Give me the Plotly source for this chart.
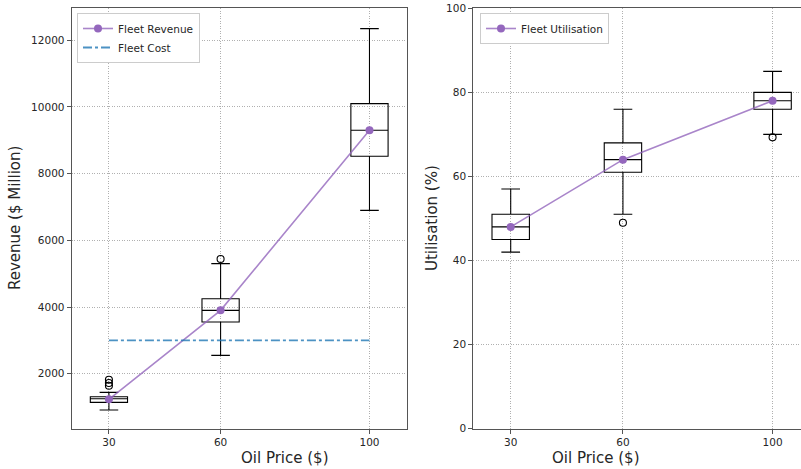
import plotly.graph_objects as go

# Oil price scenarios
oil_price = [30, 60, 100]
tick_labels = ["30", "60", "100"]

# Fleet revenue distribution per scenario ($ Million)
rev_q1 = [1140, 3550, 8520]
rev_median = [1250, 3900, 9300]
rev_q3 = [1310, 4250, 10100]
rev_low = [910, 2550, 6900]
rev_high = [1440, 5300, 12350]
rev_outlier_x = [30, 30, 30, 60]
rev_outlier_y = [1820, 1720, 1640, 5440]
rev_mean = [1230, 3900, 9300]

# Fleet cost ($ Million)
cost_x = [30, 100]
cost_y = [3000, 3000]

# Fleet utilisation distribution per scenario (%)
util_q1 = [45, 61, 76]
util_median = [48, 64, 78]
util_q3 = [51, 68, 80]
util_low = [42, 51, 70]
util_high = [57, 76, 85]
util_outlier_x = [60, 100]
util_outlier_y = [49, 69.3]
util_mean = [48, 64, 78]

W, H = 801, 469
FONT = "DejaVu Sans"
TXT = "#262626"
PURPLE = "#9467bd"
PURPLE_LINE = "rgba(148,103,189,0.8)"
BLUE_LINE = "rgba(31,119,180,0.8)"
GRID = "#b0b0b0"
SPINE = "#555555"


def px_x(p):
    return p / W


def px_y(p):
    return 1 - p / H


fig = go.Figure()


def add_boxes(q1, med, q3, lo, hi, xa, ya):
    for i, x in enumerate(oil_price):
        fig.add_trace(go.Box(
            x=[x], q1=[q1[i]], median=[med[i]], q3=[q3[i]],
            lowerfence=[lo[i]], upperfence=[hi[i]],
            width=10, whiskerwidth=0.5,
            line=dict(color="black", width=1.1),
            fillcolor="rgba(0,0,0,0)",
            boxpoints=False, showlegend=False, hoverinfo="skip",
            xaxis=xa, yaxis=ya,
        ))


add_boxes(rev_q1, rev_median, rev_q3, rev_low, rev_high, "x", "y")
fig.add_trace(go.Scatter(
    x=rev_outlier_x, y=rev_outlier_y, mode="markers",
    marker=dict(symbol="circle-open", size=7, color="black", line=dict(width=1.1)),
    showlegend=False, hoverinfo="skip", xaxis="x", yaxis="y",
))
fig.add_trace(go.Scatter(
    x=oil_price, y=rev_mean, mode="lines+markers", name="Fleet Revenue",
    line=dict(color=PURPLE_LINE, width=1.6),
    marker=dict(color=PURPLE, size=8),
    xaxis="x", yaxis="y", legend="legend",
))
fig.add_trace(go.Scatter(
    x=cost_x, y=cost_y, mode="lines", name="Fleet Cost",
    line=dict(color=BLUE_LINE, width=1.8, dash="dashdot"),
    xaxis="x", yaxis="y", legend="legend",
))

add_boxes(util_q1, util_median, util_q3, util_low, util_high, "x2", "y2")
fig.add_trace(go.Scatter(
    x=util_outlier_x, y=util_outlier_y, mode="markers",
    marker=dict(symbol="circle-open", size=7, color="black", line=dict(width=1.1)),
    showlegend=False, hoverinfo="skip", xaxis="x2", yaxis="y2",
))
fig.add_trace(go.Scatter(
    x=oil_price, y=util_mean, mode="lines+markers", name="Fleet Utilisation",
    line=dict(color=PURPLE_LINE, width=1.6),
    marker=dict(color=PURPLE, size=8),
    xaxis="x2", yaxis="y2", legend="legend2",
))

tick_font = dict(family=FONT, size=10.5, color=TXT)
common_x = dict(
    type="linear", tickmode="array", tickvals=oil_price, ticktext=tick_labels,
    showgrid=True, gridcolor=GRID, griddash="1px,1.5px", gridwidth=0.8,
    zeroline=False, ticks="outside", ticklen=4, tickcolor=SPINE,
    showline=True, linecolor=SPINE, linewidth=1.2, mirror=True,
    tickfont=tick_font, automargin=False,
)
common_y = dict(
    type="linear", tickformat="d",
    showgrid=True, gridcolor=GRID, griddash="1px,1.5px", gridwidth=0.8,
    zeroline=False, ticks="outside", ticklen=4, tickcolor=SPINE,
    showline=True, linecolor=SPINE, linewidth=1.2,
    tickfont=tick_font, automargin=False,
)

left_dom = [px_x(71.7), px_x(406.7)]
right_dom = [px_x(473.3), 1.0]
y_dom = [px_y(428.7), px_y(8.3)]

legend_style = dict(
    bgcolor="white", bordercolor="#cccccc", borderwidth=1,
    font=dict(family=FONT, size=10.5, color=TXT),
    xanchor="left", yanchor="top", tracegroupgap=0, itemwidth=30,
)

fig.update_layout(
    template="none",
    width=W, height=H,
    margin=dict(l=0, r=0, t=0, b=0, autoexpand=False),
    paper_bgcolor="white", plot_bgcolor="white",
    font=dict(family=FONT, color=TXT),
    xaxis=dict(domain=left_dom, range=[20, 110], anchor="y", **common_x),
    yaxis=dict(domain=y_dom, range=[350, 12960], anchor="x", mirror=True,
               tickvals=[2000, 4000, 6000, 8000, 10000, 12000], **common_y),
    xaxis2=dict(domain=right_dom, range=[20, 20 + (W - 473.3) / 3.741], anchor="y2", **common_x),
    yaxis2=dict(domain=y_dom, range=[0, 100], anchor="x2", mirror=False,
                tickvals=[0, 20, 40, 60, 80, 100], **common_y),
    legend=dict(x=px_x(77), y=px_y(13), **legend_style),
    legend2=dict(x=px_x(480), y=px_y(13), **legend_style),
    annotations=[
        dict(text="Oil Price ($)", x=px_x(239), y=px_y(458), xref="paper", yref="paper",
             yanchor="middle", showarrow=False, font=dict(family=FONT, size=15, color=TXT)),
        dict(text="Oil Price ($)", x=px_x(641.6), y=px_y(458), xref="paper", yref="paper",
             yanchor="middle", showarrow=False, font=dict(family=FONT, size=15, color=TXT)),
        dict(text="Revenue ($ Million)", x=px_x(15), y=px_y(218), xref="paper", yref="paper",
             xanchor="center", yanchor="middle",
             showarrow=False, textangle=-90, font=dict(family=FONT, size=15, color=TXT)),
        dict(text="Utilisation (%)", x=px_x(432), y=px_y(218), xref="paper", yref="paper",
             xanchor="center", yanchor="middle",
             showarrow=False, textangle=-90, font=dict(family=FONT, size=15, color=TXT)),
    ],
)

fig.write_html("out.html")
